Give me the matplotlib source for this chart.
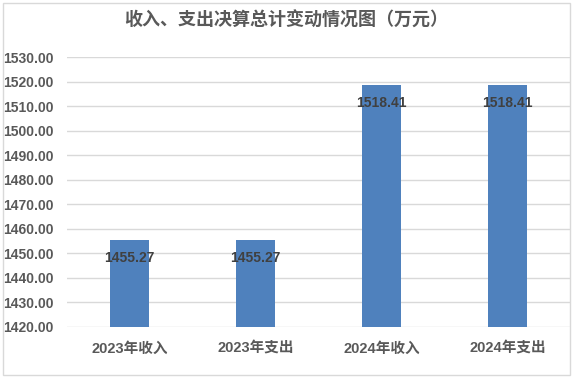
import matplotlib.pyplot as plt
from matplotlib.patches import Rectangle

categories = ['2023年收入', '2023年支出', '2024年收入', '2024年支出']
values = [1455.27, 1455.27, 1518.41, 1518.41]
yticks = [1420, 1430, 1440, 1450, 1460, 1470, 1480, 1490, 1500, 1510, 1520, 1530]
title = '收入、支出决算总计变动情况图（万元）'

fam = ['Liberation Sans', 'Noto Sans CJK SC']
txt = '#595959'

fig = plt.figure(figsize=(5.73, 3.78), dpi=100)
ax = fig.add_axes([66.5 / 573, 1 - 326.5 / 378, 504 / 573, 269.5 / 378])

x = range(len(categories))
bars = ax.bar(x, values, width=0.31, color='#4F81BD', zorder=3)
ax.set_xlim(-0.5, len(categories) - 0.5)
ax.set_ylim(1420, 1530)
ax.set_yticks(yticks)
ax.set_yticklabels(['%.2f' % v for v in yticks], family=fam, fontsize=10,
                   fontweight='bold', color=txt)
ax.set_xticks(list(x))
ax.set_xticklabels(categories, family=fam, fontsize=10.5, fontweight='bold', color=txt)
ax.tick_params(length=0, pad=9)
ax.tick_params(axis='x', pad=11)
ax.grid(axis='y', color='#D9D9D9', linewidth=1, zorder=0)
for s in ax.spines.values():
    s.set_visible(False)

for b, v in zip(bars, values):
    ax.annotate('%.2f' % v, (b.get_x() + b.get_width() / 2, v), xytext=(0, -13),
                textcoords='offset points', ha='center', va='center',
                family=fam, fontsize=10, fontweight='bold', color='#404040', zorder=4)

fig.text(0.5, 1 - 21 / 378, title, ha='center', va='center', family=fam,
         fontsize=13, fontweight='bold', color=txt)

fig.patches.append(Rectangle((3 / 573, 3 / 378), 567 / 573, 372 / 378, transform=fig.transFigure,
                             fill=False, edgecolor='#D9D9D9', linewidth=1))

fig.savefig('out.png', dpi=100)
